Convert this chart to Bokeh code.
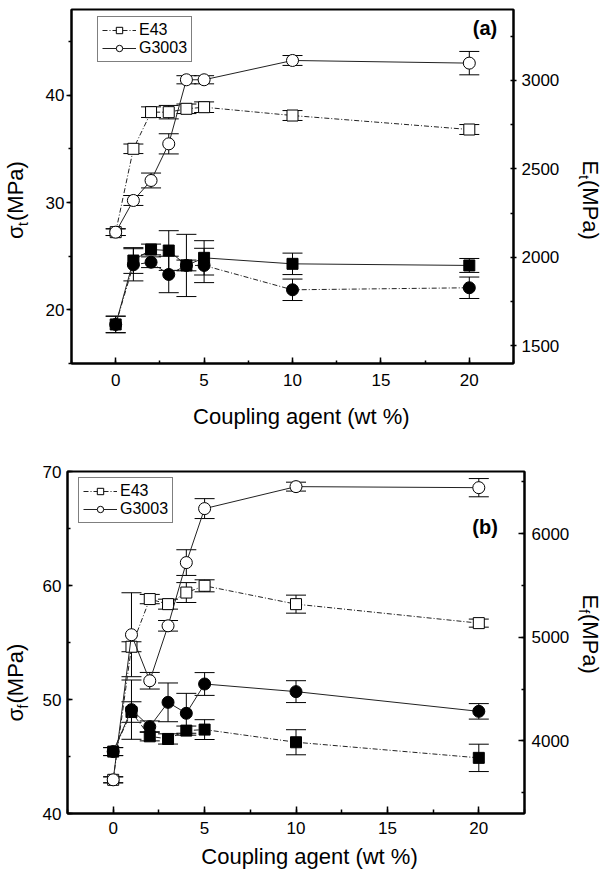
import math
from bokeh.plotting import figure
from bokeh.models import (Range1d, LinearAxis, SingleIntervalTicker, Whisker, TeeHead,
                          ColumnDataSource, Legend, LegendItem, Label)
from bokeh.layouts import column, row
from bokeh.core.properties import value
from bokeh.embed import file_html
from bokeh.resources import INLINE

# ---------------- data ----------------
coupling = [0, 1, 2, 3, 4, 5, 10, 20]          # wt %
series_names = ["E43", "G3003"]

# panel (a): tensile
a_mod_e43 = [2142, 2613, 2820, 2820, 2839, 2848, 2801, 2722]      # E_t (MPa), open squares
a_mod_e43_err = [19, 27, 30, 38, 27, 30, 28, 28]
a_mod_g3003 = [2142, 2321, 2434, 2641, 3003, 3003, 3112, 3097]    # E_t (MPa), open circles
a_mod_g3003_err = [19, 28, 42, 57, 23, 23, 28, 66]
a_str_e43 = [18.64, 24.60, 25.63, 25.53, 24.14, 24.85, 24.29, 24.14]  # sigma_t (MPa), filled squares
a_str_e43_err = [0.77, 1.2, 0.5, 1.85, 2.9, 1.6, 1.0, 0.65]
a_str_g3003 = [18.64, 24.20, 24.44, 23.30, 24.14, 24.14, 21.87, 22.06]  # filled circles
a_str_g3003_err = [0.77, 1.5, 0.5, 1.7, 0.5, 1.6, 1.0, 1.0]

# panel (b): flexural
b_mod_e43 = [3625, 4909, 5369, 5320, 5432, 5497, 5320, 5137]      # E_f (MPa)
b_mod_e43_err = [29, 48, 45, 48, 96, 58, 87, 39]
b_mod_g3003 = [3625, 5025, 4581, 5111, 5721, 6242, 6454, 6444]
b_mod_g3003_err = [29, 405, 80, 51, 124, 96, 43, 88]
b_str_e43 = [45.43, 48.9, 46.77, 46.54, 47.27, 47.36, 46.25, 44.88]  # sigma_f (MPa)
b_str_e43_err = [0.35, 0.9, 0.4, 0.45, 0.4, 0.87, 1.1, 1.2]
b_str_g3003 = [45.43, 49.11, 47.62, 49.75, 48.79, 51.36, 50.69, 48.96]
b_str_g3003_err = [0.35, 2.6, 0.5, 1.7, 1.75, 1.0, 0.96, 0.68]

FONT = "Liberation Sans"
DASHDOT = "5 2 1 2"
XR = (-2.5, 22.5)
MID = 0.3465   # distance (em) from alphabetic baseline to centre of the text box


def make_fig(width, height, bl, br, bt, bb, yl, yr):
    p = figure(width=width, height=height, x_range=Range1d(*XR), y_range=Range1d(*yl),
               output_backend="svg", toolbar_location=None, title=None,
               min_border_left=bl, min_border_right=br, min_border_top=bt, min_border_bottom=bb)
    p.extra_y_ranges = {"mod": Range1d(*yr)}
    p.xgrid.visible = False
    p.ygrid.visible = False
    p.outline_line_color = "black"
    p.outline_line_width = 2
    p.background_fill_color = "white"
    p.border_fill_color = "white"
    return p


def text_fig(width, height, left_px, top_px, bt=0, bb=0):
    """A blank figure whose frame coordinates are page pixels (y negated)."""
    f_top = top_px + bt
    f_bot = top_px + height - bb
    p = figure(width=width, height=height,
               x_range=Range1d(left_px, left_px + width), y_range=Range1d(-f_bot, -f_top),
               output_backend="svg", toolbar_location=None, title=None,
               x_axis_location=None, y_axis_location=None,
               min_border_left=0, min_border_right=0, min_border_top=bt, min_border_bottom=bb)
    p.xgrid.visible = False
    p.ygrid.visible = False
    p.outline_line_color = None
    p.background_fill_color = "white"
    p.border_fill_color = "white"
    return p


def put_text(p, x, py, txt, size, angle=0.0, align="left"):
    p.text(x=[x], y=[-py], text=[txt], angle=angle, text_align=align, text_baseline="middle",
           text_font=value(FONT), text_font_size=value(f"{size}px"), text_color="black")


def horiz(p, px, base_py, txt, size, align="center"):
    put_text(p, px, base_py - size * MID, txt, size, 0.0, align)


def up(p, base_px, start_py, txt, size):
    put_text(p, base_px - size * MID, start_py, txt, size, math.pi / 2)


def down(p, base_px, start_py, txt, size):
    put_text(p, base_px + size * MID, start_py, txt, size, -math.pi / 2)


def style_axis(ax, tin, tout, min_in, min_out, standoff):
    ax.axis_line_color = "black"
    ax.axis_line_width = 2
    ax.major_tick_line_color = "black"
    ax.minor_tick_line_color = "black"
    ax.major_tick_line_width = 1.5
    ax.minor_tick_line_width = 1.5
    ax.major_tick_in = tin
    ax.major_tick_out = tout
    ax.minor_tick_in = min_in
    ax.minor_tick_out = min_out
    ax.major_label_standoff = standoff
    ax.major_label_text_font = FONT
    ax.major_label_text_font_size = "17px"
    ax.major_label_text_color = "black"
    ax.axis_label = None


def add_series(p, xs, ys, es, marker, filled, dash, rn=None):
    kw = {"y_range_name": rn} if rn else {}
    src = ColumnDataSource(dict(x=xs, lower=[y - e for y, e in zip(ys, es)],
                                upper=[y + e for y, e in zip(ys, es)]))
    w = Whisker(base="x", lower="lower", upper="upper", source=src, line_color="black",
                line_width=1,
                upper_head=TeeHead(size=20, line_color="black", line_width=1),
                lower_head=TeeHead(size=20, line_color="black", line_width=1), **kw)
    p.add_layout(w)
    lr = p.line(xs, ys, line_color="#222222", line_width=1, line_dash=dash, **kw)
    sr = p.scatter(xs, ys, marker=marker, size=11 if marker == "square" else 12,
                   fill_color="black" if filled else "white", line_color="black",
                   line_width=1, **kw)
    return lr, sr


def mapper(L, R, T, B, yr):
    def fx(px):
        return XR[0] + (px - L) / (R - L) * (XR[1] - XR[0])

    def fy(py):
        return yr[0] + (B - py) / (B - T) * (yr[1] - yr[0])
    return fx, fy


def tag(p, fx, fy, px, py, text):
    p.add_layout(Label(x=fx(px), y=fy(py), text=text, text_align="right",
                       text_baseline="middle", text_font=FONT, text_font_size="20px",
                       text_font_style="bold", text_color="black"))


def add_legend(p, items, loc):
    lg = Legend(items=[LegendItem(label=n, renderers=list(r)) for n, r in items], location=loc)
    lg.border_line_color = "black"
    lg.border_line_width = 1
    lg.background_fill_color = "white"
    lg.background_fill_alpha = 1
    lg.padding = 4
    lg.spacing = 0
    lg.margin = 0
    lg.glyph_width = 34
    lg.glyph_height = 16
    lg.label_height = 16
    lg.label_standoff = 3
    lg.label_text_font = FONT
    lg.label_text_font_size = "16px"
    lg.label_text_color = "black"
    lg.label_text_baseline = "middle"
    p.add_layout(lg)


# ---------------- panel (a) ----------------
HA = 400
BTA, BBA = 9, 37
yl_a, yr_a = (15, 48), (1400, 3400)
LWA, RWA = 34, 38          # side text columns
pa = make_fig(604 - LWA - RWA, HA, 71 - LWA, 604 - RWA - 513, BTA, BBA, yl_a, yr_a)
style_axis(pa.xaxis[0], 6, 0, 3, 0, 10)
pa.xaxis[0].ticker = SingleIntervalTicker(interval=5, num_minor_ticks=2)
style_axis(pa.yaxis[0], 0, 5, 0, 3, 2)
pa.yaxis[0].ticker = SingleIntervalTicker(interval=10, num_minor_ticks=2)
ra = LinearAxis(y_range_name="mod", ticker=SingleIntervalTicker(interval=500, num_minor_ticks=2))
style_axis(ra, 0, 3, 3, 0, 5)
pa.add_layout(ra, "right")

e43_a = add_series(pa, coupling, a_mod_e43, a_mod_e43_err, "square", False, DASHDOT, "mod")
g_a = add_series(pa, coupling, a_mod_g3003, a_mod_g3003_err, "circle", False, "solid", "mod")
add_series(pa, coupling, a_str_e43, a_str_e43_err, "square", True, "solid")
add_series(pa, coupling, a_str_g3003, a_str_g3003_err, "circle", True, DASHDOT)
add_legend(pa, [(series_names[0], e43_a), (series_names[1], g_a)], (26, 301))
fxa, fya = mapper(71, 513, 9, 363, yl_a)
tag(pa, fxa, fya, 496.7, 27.5, "(a)")

la = text_fig(LWA, HA, 0, 0, BTA, BBA)
up(la, 23, 238.5, "σ", 22)
up(la, 27, 225.5, "t", 14)
up(la, 23, 220.5, "(MPa)", 22)

rA = text_fig(RWA, HA, 604 - RWA, 0, BTA, BBA)
down(rA, 582.5, 160, "E", 22)
down(rA, 578.5, 174.7, "t", 14)
down(rA, 582.5, 179.5, "(MPa)", 22)

tA = text_fig(604, 36, 0, HA)
horiz(tA, 300.8, 424, "Coupling agent (wt %)", 22)

# ---------------- panel (b) ----------------
HB = 409
TOPB = 436
BTB, BBB = 35, 32
yl_b, yr_b = (40, 70), (3300, 6600)
LWB, RWB = 34, 32
pb = make_fig(604 - LWB - RWB, HB, 67 - LWB, 604 - RWB - 525, BTB, BBB, yl_b, yr_b)
style_axis(pb.xaxis[0], 7, 0, 4, 0, 8)
pb.xaxis[0].ticker = SingleIntervalTicker(interval=5, num_minor_ticks=2)
style_axis(pb.yaxis[0], 5, 0, 3, 0, 6)
pb.yaxis[0].ticker = SingleIntervalTicker(interval=10, num_minor_ticks=2)
rb = LinearAxis(y_range_name="mod", ticker=SingleIntervalTicker(interval=1000, num_minor_ticks=2))
style_axis(rb, 6, 0, 3, 0, 7)
pb.add_layout(rb, "right")

e43_b = add_series(pb, coupling, b_mod_e43, b_mod_e43_err, "square", False, DASHDOT, "mod")
g_b = add_series(pb, coupling, b_mod_g3003, b_mod_g3003_err, "circle", False, "solid", "mod")
add_series(pb, coupling, b_str_e43, b_str_e43_err, "square", True, DASHDOT)
add_series(pb, coupling, b_str_g3003, b_str_g3003_err, "circle", True, "solid")
add_legend(pb, [(series_names[0], e43_b), (series_names[1], g_b)], (11, 290))
fxb, fyb = mapper(67, 525, 471, 813, yl_b)
tag(pb, fxb, fyb, 498.3, 526.5, "(b)")

lb = text_fig(LWB, HB, 0, TOPB, BTB, BBB)
up(lb, 23, 721, "σ", 22)
up(lb, 27, 708, "f", 14)
up(lb, 23, 703, "(MPa)", 22)

rB = text_fig(RWB, HB, 604 - RWB, TOPB, BTB, BBB)
down(rB, 582.5, 594, "E", 22)
down(rB, 578.5, 608.7, "f", 14)
down(rB, 582.5, 613.5, "(MPa)", 22)

TOPT = TOPB + HB
tB = text_fig(604, 871 - TOPT, 0, TOPT)
horiz(tB, 309, 864, "Coupling agent (wt %)", 22)

layout = column(row(la, pa, rA), tA, row(lb, pb, rB), tB)
open("out.html", "w").write(file_html(layout, INLINE))
